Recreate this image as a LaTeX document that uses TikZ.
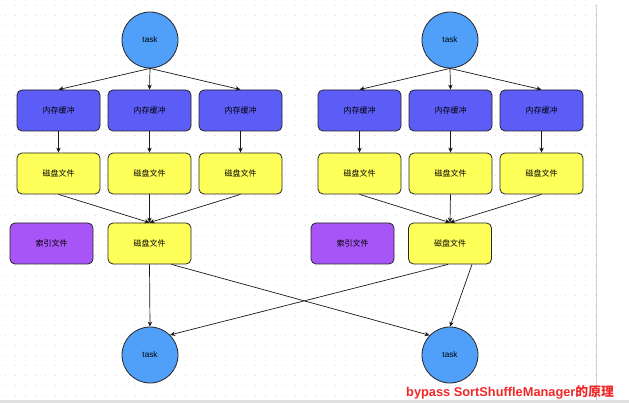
\documentclass[tikz,border=0pt]{standalone}
\usepackage{fontspec}
\setmainfont{Liberation Sans}
\newfontfamily\cjk{Noto Sans CJK SC}
\usetikzlibrary{arrows.meta}
\definecolor{memblue}{RGB}{92,92,246}
\definecolor{diskyellow}{RGB}{255,255,90}
\definecolor{idxpurple}{RGB}{168,85,247}
\definecolor{taskblue}{RGB}{80,160,250}
\definecolor{titlered}{RGB}{240,40,40}
\begin{document}
\begin{tikzpicture}[x=1pt,y=-1pt,
  boxstyle/.style={draw=black!85, line width=0.8pt, rounded corners=5pt,
    minimum width=83pt, minimum height=41pt, inner sep=0pt,
    font=\cjk\fontsize{8}{10}\selectfont},
  membox/.style={boxstyle, fill=memblue},
  diskbox/.style={boxstyle, fill=diskyellow},
  idxbox/.style={boxstyle, fill=idxpurple},
  taskcircle/.style={circle, draw=black!85, line width=0.8pt, fill=taskblue,
    minimum size=56pt, inner sep=0pt, font=\fontsize{8.2}{10}\selectfont},
  conn/.style={draw=black!90, line width=0.7pt, -{Stealth[length=5pt,width=4.5pt]}}]
\useasboundingbox (0,0) rectangle (629,403);
\fill[white] (0,0) rectangle (629,403);
% dotted grid
\foreach \yy in {5,15,...,395}{
  \draw[black!14, line width=0.8pt, dash pattern=on 0.8pt off 9.2pt] (5,\yy) -- (596,\yy);
}
\draw[black!18, line width=1pt] (596,5) -- (596,400);
\fill[black!12] (0,400) rectangle (629,403);

% tasks
\node[taskcircle] (t1) at (150,40) {task};
\node[taskcircle] (t2) at (450,40) {task};
\node[taskcircle] (t3) at (150,355) {task};
\node[taskcircle] (t4) at (450,355) {task};

% memory buffers
\node[membox] (a1) at (58.5,110.5) {内存缓冲};
\node[membox] (a2) at (149.5,110.5) {内存缓冲};
\node[membox] (a3) at (240.5,110.5) {内存缓冲};
\node[membox] (a4) at (359.5,110.5) {内存缓冲};
\node[membox] (a5) at (450.5,110.5) {内存缓冲};
\node[membox] (a6) at (541.5,110.5) {内存缓冲};

% disk files
\node[diskbox] (d1) at (58.5,173.5) {磁盘文件};
\node[diskbox] (d2) at (149.5,173.5) {磁盘文件};
\node[diskbox] (d3) at (240.5,173.5) {磁盘文件};
\node[diskbox] (d4) at (359.5,173.5) {磁盘文件};
\node[diskbox] (d5) at (450.5,173.5) {磁盘文件};
\node[diskbox] (d6) at (541.5,173.5) {磁盘文件};

% merged files
\node[idxbox] (i1) at (51.5,243.5) {索引文件};
\node[diskbox] (m1) at (149.5,243.5) {磁盘文件};
\node[idxbox] (i2) at (352.5,243.5) {索引文件};
\node[diskbox] (m2) at (450,243.5) {磁盘文件};

% connectors
\foreach \s/\t in {t1/a1,t1/a2,t1/a3,t2/a4,t2/a5,t2/a6,
                   a1/d1,a2/d2,a3/d3,a4/d4,a5/d5,a6/d6,
                   d1/m1,d2/m1,d3/m1,d4/m2,d5/m2,d6/m2}{
  \draw[conn] (\s.south) -- (\t.north);
}
\draw[conn] (m1.south) -- (t3.north);
\draw[conn] ([xshift=22pt]m1.south) -- (t4.136);
\draw[conn] ([xshift=-2pt]m2.south) -- (t3.45);
\draw[conn] ([xshift=22pt]m2.south) -- (t4.north);

% title
\node[text=titlered, font=\bfseries\fontsize{12.8}{15}\selectfont, inner sep=0pt, anchor=west]
  (title) at (406,392) {bypass SortShuffleManager{\cjk\bfseries 的原理}};
\end{tikzpicture}
\end{document}
